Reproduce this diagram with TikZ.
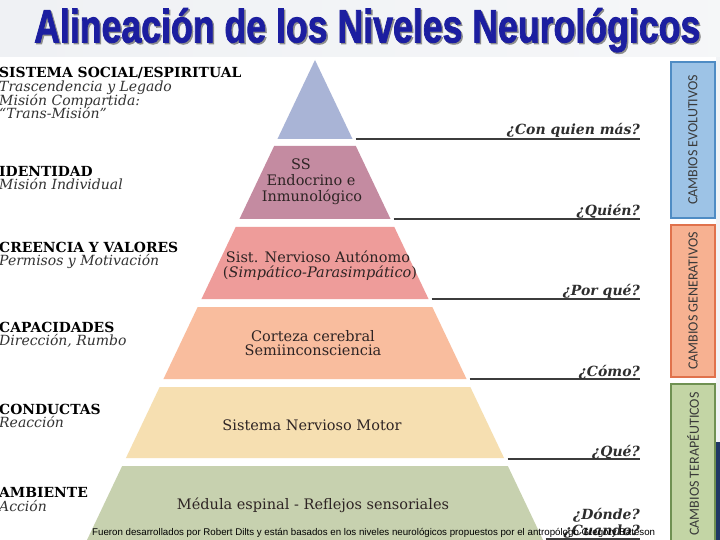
\documentclass[tikz,border=0pt]{standalone}
\usepackage{fontspec}
\usepackage{graphicx}
\setmainfont{DejaVu Serif}
\newfontfamily\titlefont{Liberation Sans}[BoldFeatures={FakeBold=2}]
\newfontfamily\footfont{Liberation Sans}
\newfontfamily\calfont{Carlito}
\definecolor{lvA}{HTML}{A9B4D6}
\definecolor{lvB}{HTML}{C48BA1}
\definecolor{lvC}{HTML}{EE9C9A}
\definecolor{lvD}{HTML}{F9BD9E}
\definecolor{lvE}{HTML}{F6DFB1}
\definecolor{lvF}{HTML}{C7D1AF}
\definecolor{ptext}{HTML}{2E2424}
\definecolor{qgrey}{HTML}{2E2E2E}
\definecolor{lgrey}{HTML}{3C3C3C}
\definecolor{titleblue}{HTML}{1C1EA0}
\definecolor{bluefill}{HTML}{9DC3E6}
\definecolor{blueedge}{HTML}{4F8CC4}
\definecolor{orafill}{HTML}{F7B191}
\definecolor{oraedge}{HTML}{E0724C}
\definecolor{grnfill}{HTML}{C3D5A5}
\definecolor{grnedge}{HTML}{6F9152}
\definecolor{boxtext}{HTML}{3A3A3A}
\definecolor{topband}{HTML}{EFF1F4}
\definecolor{navy}{HTML}{1F3864}
\tikzset{
  headlbl/.style={anchor=base west, inner sep=0pt, font=\fontsize{13.9}{15}\selectfont\bfseries, text=black},
  sublbl/.style={anchor=base west, inner sep=0pt, font=\fontsize{14}{15}\selectfont\itshape, text=black!80},
  plbl/.style={anchor=base, inner sep=0pt, font=\fontsize{14.5}{16}\selectfont, text=ptext},
  qlbl/.style={anchor=base east, inner sep=0pt, font=\fontsize{14}{16}\selectfont\bfseries\itshape, text=qgrey},
  qline/.style={draw=lgrey, line width=1.8pt},
  sidebox/.style={rotate=90, minimum height=44pt, inner sep=0pt, line width=1.4pt, font=\calfont\fontsize{14}{16}\selectfont, text=boxtext}
}
\begin{document}
\begin{tikzpicture}[x=1pt,y=-1pt]
\useasboundingbox (0,0) rectangle (720,540);
\fill[white] (0,0) rectangle (720,540);
% background band
\fill[left color=topband, right color=topband!60!white] (0,0) rectangle (720,57);
\fill[topband!80!white] (716,57) rectangle (720,442);
\fill[navy] (716,442) rectangle (720,540);
% title
\node[anchor=north west, inner sep=0pt, text=black!45] at (35.5,9.5) {\resizebox*{666pt}{44pt}{\titlefont\bfseries Alineación de los Niveles Neurológicos}};
\node[anchor=north west, inner sep=0pt, text=titleblue] (title) at (34,8) {\resizebox*{666pt}{44pt}{\titlefont\bfseries Alineación de los Niveles Neurológicos}};
% pyramid
\fill[lvA] (315,60) -- ({315+0.475*79},139) -- ({315-0.475*79},139) -- cycle;
\foreach \t/\b/\c in {146/219/lvB, 227/299/lvC, 307/379/lvD, 387/458/lvE, 466/545/lvF}{
  \fill[\c] ({315-0.475*(\t-60)},\t) -- ({315+0.475*(\t-60)},\t) -- ({315+0.475*(\b-60)},\b) -- ({315-0.475*(\b-60)},\b) -- cycle;
}
% right lines
\foreach \b/\n in {139/a, 219/b, 299/c, 379/d, 459/e, 539/f}{
  \coordinate (ls\n) at ({318+0.475*(\b-60)},\b);
  \coordinate (le\n) at (640,\b);
  \draw[qline] (ls\n) -- (le\n);
}
% questions
\node[qlbl] (q1) at (640,135) {¿Con quien más?};
\node[qlbl] (q2) at (640,215) {¿Quién?};
\node[qlbl] (q3) at (640,295) {¿Por qué?};
\node[qlbl] (q4) at (640,376) {¿Cómo?};
\node[qlbl] (q5) at (640,456) {¿Qué?};
\node[qlbl] (q6) at (640,519) {¿Dónde?};
\node[qlbl] (q7) at (640,535) {¿Cuando?};
% pyramid texts
\node[plbl] (p2a) at (301,170) {SS};
\node[plbl] (p2b) at (311,186) {Endocrino e};
\node[plbl] (p2c) at (312,202) {Inmunológico};
\node[plbl] (p3a) at (318,262) {Sist. Nervioso Autónomo};
\node[plbl] (p3b) at (320,277) {(\textit{Simpático-Parasimpático})};
\node[plbl] (p4a) at (313,341) {Corteza cerebral};
\node[plbl] (p4b) at (313,355) {Semiinconsciencia};
\node[plbl] (p5) at (312,430) {Sistema Nervioso Motor};
\node[plbl] (p6) at (313,509) {Médula espinal - Reflejos sensoriales};
% left labels
\node[headlbl] (h1) at (-1,78) {SISTEMA SOCIAL/ESPIRITUAL};
\node[sublbl] (s1a) at (-1,92) {Trascendencia y Legado};
\node[sublbl] (s1b) at (-1,106) {Misión Compartida:};
\node[sublbl] (s1c) at (-1,119) {“Trans-Misión”};
\node[headlbl] (h2) at (-1,177) {IDENTIDAD};
\node[sublbl] (s2) at (-1,190) {Misión Individual};
\node[headlbl] (h3) at (-1,252) {CREENCIA Y VALORES};
\node[sublbl] (s3) at (-1,265) {Permisos y Motivación};
\node[headlbl] (h4) at (-1,332) {CAPACIDADES};
\node[sublbl] (s4) at (-1,345) {Dirección, Rumbo};
\node[headlbl] (h5) at (-1,414) {CONDUCTAS};
\node[sublbl] (s5) at (-1,427) {Reacción};
\node[headlbl] (h6) at (-1,497) {AMBIENTE};
\node[sublbl] (s6) at (-1,511) {Acción};
% side boxes
\node[sidebox, minimum width=156pt, fill=bluefill, draw=blueedge] (b1) at (693,140) {CAMBIOS EVOLUTIVOS};
\node[sidebox, minimum width=152pt, fill=orafill, draw=oraedge] (b2) at (693,301) {CAMBIOS GENERATIVOS};
\node[sidebox, minimum width=160pt, fill=grnfill, draw=grnedge] (b3) at (693,464) {CAMBIOS TERAPÉUTICOS};
% footer
\node[anchor=base west, inner sep=0pt] (foot) at (92,535) {\resizebox{563pt}{!}{\footfont\fontsize{9.5}{10}\selectfont Fueron desarrollados por Robert Dilts y están basados en los niveles neurológicos propuestos por el antropólogo Gregory Bateson}};
\end{tikzpicture}
\end{document}
